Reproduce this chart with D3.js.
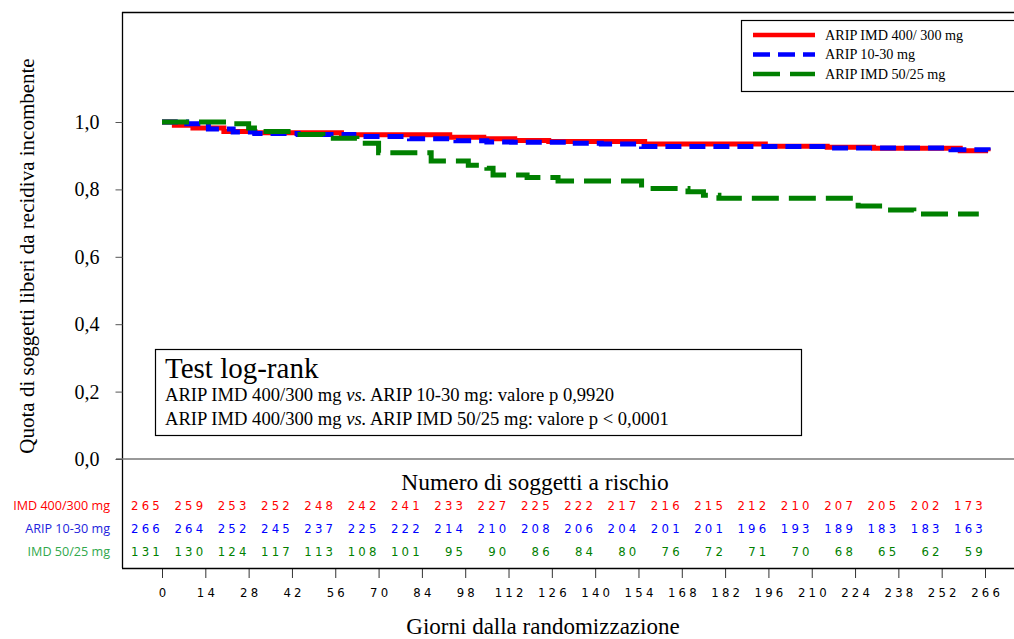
<!DOCTYPE html>
<html>
<head>
<meta charset="utf-8">
<script src="https://cdn.jsdelivr.net/npm/d3@7"></script>
<style>
  body { margin: 0; background: #fff; }
  svg { display: block; }
  .serif { font-family: "Liberation Serif", "Times New Roman", serif; }
  .narrow { font-family: "Liberation Sans Narrow", "DejaVu Sans Condensed", sans-serif; font-stretch: condensed; }
</style>
</head>
<body>
<svg width="1014" height="639"></svg>
<script>
// step data: [day, proportion]
var imd400 = [[0, 1.0], [4, 0.99], [10, 0.982], [20, 0.972], [30, 0.968], [58, 0.962], [93, 0.955],
  [104, 0.95], [114, 0.945], [125, 0.942], [156, 0.935], [195, 0.928], [215, 0.925], [230, 0.922],
  [258, 0.915], [267, 0.913]];
var arip1030 = [[0, 1.0], [8, 0.995], [15, 0.979], [23, 0.97], [30, 0.966], [44, 0.963], [62, 0.957],
  [80, 0.95], [95, 0.944], [105, 0.941], [113, 0.94], [132, 0.937], [142, 0.935], [155, 0.927],
  [215, 0.923], [255, 0.918], [267, 0.916]];
var imd5025 = [[0, 1.0], [22, 0.995], [28, 0.982], [32, 0.972], [42, 0.963], [52, 0.952], [63, 0.937],
  [70, 0.909], [87, 0.884], [99, 0.872], [105, 0.863], [107, 0.843], [118, 0.835], [128, 0.825],
  [155, 0.803], [170, 0.793], [175, 0.783], [180, 0.774], [225, 0.751], [233, 0.739], [243, 0.727],
  [264, 0.727]];

var dayTicks = [0, 14, 28, 42, 56, 70, 84, 98, 112, 126, 140, 154, 168, 182, 196, 210, 224, 238, 252, 266];
var yTicks = [0, 0.2, 0.4, 0.6, 0.8, 1.0];

var atRisk400 = [265, 259, 253, 252, 248, 242, 241, 233, 227, 225, 222, 217, 216, 215, 212, 210, 207, 205, 202, 173];
var atRisk1030 = [266, 264, 252, 245, 237, 225, 222, 214, 210, 208, 206, 204, 201, 201, 196, 193, 189, 183, 183, 163];
var atRisk5025 = [131, 130, 124, 117, 113, 108, 101, 95, 90, 86, 84, 80, 76, 72, 71, 70, 68, 65, 62, 59];

var seriesNames = ["ARIP IMD 400/ 300 mg", "ARIP 10-30 mg", "ARIP IMD 50/25 mg"];
var rowLabels = ["IMD 400/300 mg", "ARIP 10-30 mg", "IMD 50/25 mg"];
var logRank = [
  {a: "ARIP IMD 400/300 mg ", b: "ARIP 10-30 mg: valore p 0,9920"},
  {a: "ARIP IMD 400/300 mg ", b: "ARIP IMD 50/25 mg: valore p < 0,0001"}
];

var svg = d3.select("svg");

var x = d3.scaleLinear().domain([0, 266]).range([162, 985]);
var y = d3.scaleLinear().domain([0, 1]).range([459, 122]);

var styles = [
  {color: "#ff0000", dash: null, label: "#ff0000", num: "#ff0000"},
  {color: "#0000ff", dash: "16,8", label: "#2222dd", num: "#0000ff"},
  {color: "#008000", dash: "27,10", label: "#30a84c", num: "#008000"}
];

// frame
svg.append("line").attr("x1", 122.5).attr("x2", 122.5).attr("y1", 12).attr("y2", 568)
  .attr("stroke", "#000").attr("stroke-width", 1.3);
svg.append("line").attr("x1", 122).attr("x2", 1014).attr("y1", 12.5).attr("y2", 12.5)
  .attr("stroke", "#000").attr("stroke-width", 1.3);
svg.append("line").attr("x1", 116).attr("x2", 1014).attr("y1", 459).attr("y2", 459)
  .attr("stroke", "#777").attr("stroke-width", 1.5);

// y axis
var yAxis = d3.axisLeft(y).tickValues(yTicks).tickSize(7)
  .tickFormat(function(d) { return d3.format(".1f")(d).replace(".", ","); });
var gy = svg.append("g").attr("transform", "translate(122.5,0)").call(yAxis);
gy.select(".domain").remove();
gy.selectAll(".tick line").attr("stroke", "#555");
gy.selectAll("text").attr("class", "serif").attr("font-size", 20).attr("fill", "#000").attr("x", -23);

svg.append("text").attr("class", "serif")
  .attr("transform", "translate(34,256) rotate(-90)")
  .attr("text-anchor", "middle").attr("font-size", 21)
  .text("Quota di soggetti liberi da recidiva incombente");

// curves
var line = d3.line()
  .x(function(d) { return x(d[0]); })
  .y(function(d) { return y(d[1]); })
  .curve(d3.curveStepAfter);

[imd400, arip1030, imd5025].forEach(function(data, i) {
  svg.append("path").datum(data)
    .attr("d", line)
    .attr("fill", "none")
    .attr("stroke", styles[i].color)
    .attr("stroke-width", 5)
    .attr("stroke-dasharray", styles[i].dash);
});

// legend
var legend = svg.append("g").attr("transform", "translate(741,20)");
legend.append("rect").attr("x", 0.5).attr("y", 0.5).attr("width", 300).attr("height", 71)
  .attr("fill", "#fff").attr("stroke", "#000").attr("stroke-width", 1.2);
seriesNames.forEach(function(name, i) {
  var ly = 15 + i * 19.5;
  legend.append("line").attr("x1", 12).attr("x2", 74).attr("y1", ly).attr("y2", ly)
    .attr("stroke", styles[i].color).attr("stroke-width", 4.5)
    .attr("stroke-dasharray", i == 1 ? "17,8" : (i == 2 ? "27,10" : null));
  legend.append("text").attr("class", "serif").attr("x", 84).attr("y", ly + 4.5)
    .attr("font-size", 14.2).text(name);
});

// log-rank box
var lr = svg.append("g").attr("transform", "translate(155,349)");
lr.append("rect").attr("x", 0.5).attr("y", 0.5).attr("width", 646).attr("height", 86)
  .attr("fill", "#fff").attr("stroke", "#000").attr("stroke-width", 1.2);
lr.append("text").attr("class", "serif").attr("x", 10).attr("y", 29).attr("font-size", 29)
  .text("Test log-rank");
logRank.forEach(function(r, i) {
  var t = lr.append("text").attr("class", "serif").attr("x", 10).attr("y", 52 + i * 24)
    .attr("font-size", 18.6);
  t.append("tspan").text(r.a);
  t.append("tspan").attr("font-style", "italic").text("vs.");
  t.append("tspan").text(" " + r.b);
});

// risk table
svg.append("text").attr("class", "serif").attr("x", 535).attr("y", 490)
  .attr("text-anchor", "middle").attr("font-size", 23.5).text("Numero di soggetti a rischio");

[atRisk400, atRisk1030, atRisk5025].forEach(function(row, i) {
  var ry = 510 + i * 23;
  svg.append("text").attr("x", 110).attr("y", ry)
    .attr("text-anchor", "end").attr("font-family", "'Open Sans', 'Noto Sans', sans-serif")
    .attr("font-size", 12.6).attr("fill", styles[i].label).text(rowLabels[i]);
  svg.selectAll(null).data(row).enter().append("text")
    .attr("class", "narrow")
    .attr("x", function(d, j) { return x(dayTicks[j]) + 1; })
    .attr("y", ry)
    .attr("text-anchor", "end")
    .attr("font-size", 13)
    .attr("letter-spacing", 3.2)
    .attr("fill", styles[i].num)
    .text(function(d) { return d; });
});

// x axis
var xAxis = d3.axisBottom(x).tickValues(dayTicks).tickSize(10).tickPadding(10);
var gx = svg.append("g").attr("transform", "translate(0,568)").call(xAxis);
gx.select(".domain").remove();
svg.append("line").attr("x1", 122).attr("x2", 1014).attr("y1", 568.5).attr("y2", 568.5)
  .attr("stroke", "#000").attr("stroke-width", 1.3);
gx.selectAll(".tick line").attr("stroke", "#333");
gx.selectAll("text").attr("class", "narrow").attr("font-size", 13).attr("fill", "#000")
  .attr("letter-spacing", 3.2).attr("dx", 1.6);

svg.append("text").attr("class", "serif").attr("x", 543).attr("y", 634)
  .attr("text-anchor", "middle").attr("font-size", 23).text("Giorni dalla randomizzazione");
</script>
</body>
</html>
